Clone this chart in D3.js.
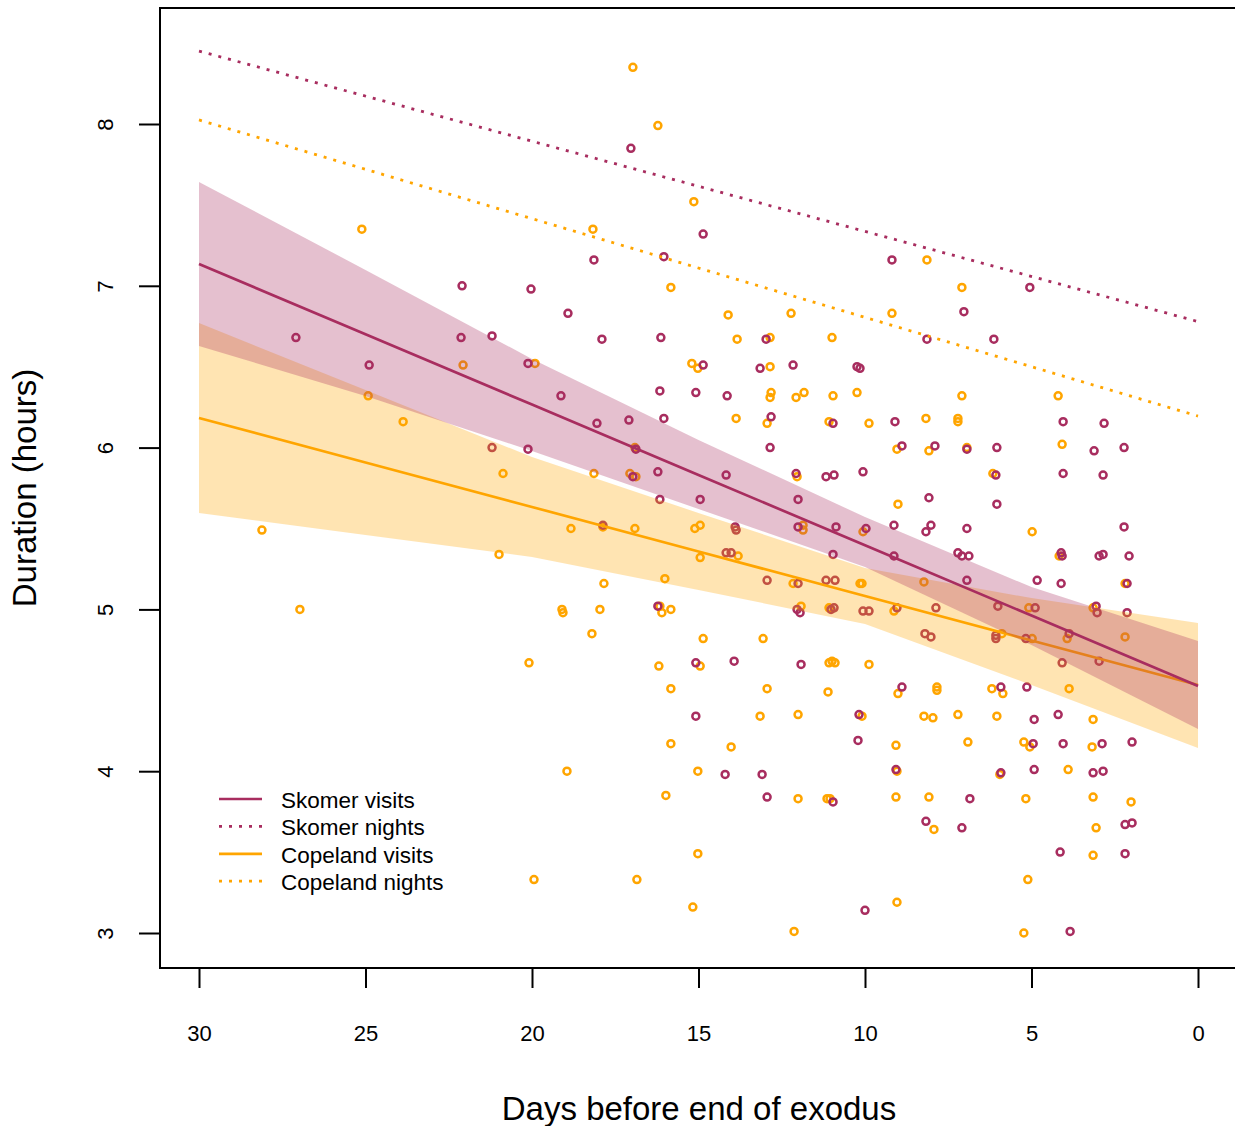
<!DOCTYPE html>
<html>
<head>
<meta charset="utf-8">
<script src="https://cdn.jsdelivr.net/npm/d3@7"></script>
<style>
  body { margin: 0; background: #fff; }
  svg { display: block; font-family: "Liberation Sans", Arial, sans-serif; }
</style>
</head>
<body>
<svg id="chart" width="1235" height="1126"></svg>
<script>
// observations: [days before end of exodus, duration in hours]
const skomerPoints = [
  [27.09,6.68],[22.10,7.00],[20.03,6.98],[22.13,6.68],[21.20,6.69],[17.03,7.85],[14.86,7.32],[18.14,7.16],
  [16.04,7.18],[18.92,6.83],[17.90,6.67],[16.13,6.68],[12.97,6.67],[9.19,7.16],[5.05,6.99],[7.03,6.84],
  [8.14,6.67],[6.13,6.67],[24.89,6.51],[20.12,6.52],[21.20,6.00],[20.12,5.99],[14.86,6.51],[13.15,6.49],
  [12.16,6.51],[10.24,6.50],[10.15,6.49],[19.13,6.32],[16.16,6.35],[15.08,6.34],[14.14,6.32],[18.05,6.15],
  [17.09,6.17],[16.04,6.18],[12.82,6.19],[10.96,6.15],[12.85,6.00],[16.88,5.99],[16.97,5.82],[16.22,5.85],
  [14.17,5.83],[12.07,5.84],[11.17,5.82],[10.93,5.83],[16.16,5.68],[14.95,5.68],[12.01,5.68],[17.87,5.52],
  [13.90,5.51],[13.87,5.49],[12.01,5.51],[10.87,5.51],[14.17,5.35],[14.02,5.35],[10.96,5.34],[12.94,5.18],
  [12.01,5.16],[11.17,5.18],[10.90,5.18],[16.22,5.02],[12.04,5.00],[11.95,4.98],[11.02,5.00],[10.93,5.01],
  [9.10,6.16],[4.05,6.16],[2.82,6.15],[8.89,6.01],[7.90,6.01],[6.94,5.99],[6.04,6.00],[3.12,5.98],
  [2.22,6.00],[10.06,5.85],[6.07,5.83],[4.05,5.84],[2.85,5.83],[8.08,5.69],[6.04,5.65],[9.97,5.50],
  [9.13,5.52],[8.17,5.48],[8.02,5.52],[6.94,5.50],[2.22,5.51],[9.13,5.33],[7.21,5.35],[7.09,5.33],
  [6.88,5.33],[4.11,5.35],[4.08,5.33],[2.97,5.33],[2.85,5.34],[2.07,5.33],[6.94,5.18],[4.83,5.18],
  [4.11,5.16],[2.13,5.16],[10.06,4.99],[9.88,4.99],[9.04,5.01],[7.87,5.01],[6.01,5.02],[4.89,5.01],
  [3.06,5.02],[3.03,4.98],[2.13,4.98],[8.20,4.85],[8.02,4.83],[6.07,4.84],[6.07,4.82],[5.17,4.82],
  [3.87,4.85],[4.08,4.67],[2.97,4.68],[8.89,4.52],[5.92,4.52],[5.14,4.52],[10.18,4.35],[4.92,4.32],
  [4.20,4.35],[10.21,4.19],[4.95,4.17],[4.05,4.17],[2.88,4.17],[1.98,4.18],[9.07,4.01],[5.92,3.99],
  [4.92,4.01],[3.15,3.99],[2.85,4.00],[6.85,3.83],[8.17,3.69],[7.09,3.65],[2.19,3.67],[1.98,3.68],
  [4.14,3.50],[2.19,3.49],[10.00,3.14],[3.84,3.01],[15.08,4.67],[13.93,4.68],[11.92,4.66],[15.08,4.34],
  [14.20,3.98],[13.09,3.98],[12.94,3.84],[10.96,3.81]
];

const copelandPoints = [
  [25.11,7.35],[16.97,8.35],[16.22,7.99],[15.14,7.52],[18.17,7.35],[15.83,6.99],[14.11,6.82],[12.22,6.83],
  [13.84,6.67],[12.85,6.68],[10.99,6.68],[8.14,7.16],[7.09,6.99],[9.19,6.83],[22.07,6.51],[24.92,6.32],
  [23.87,6.16],[20.87,5.84],[28.11,5.49],[20.99,5.34],[26.97,5.00],[20.09,4.67],[19.91,6.52],[15.20,6.52],
  [15.02,6.49],[12.85,6.50],[12.82,6.34],[12.85,6.31],[12.07,6.31],[11.83,6.34],[10.96,6.32],[10.24,6.34],
  [13.87,6.18],[12.94,6.15],[11.08,6.16],[16.91,6.00],[18.14,5.84],[17.06,5.84],[16.88,5.82],[12.04,5.82],
  [18.83,5.50],[17.87,5.51],[16.91,5.50],[15.11,5.50],[14.95,5.52],[11.86,5.52],[11.86,5.49],[14.95,5.32],
  [13.81,5.33],[17.84,5.16],[16.01,5.19],[12.16,5.16],[10.15,5.16],[19.10,5.00],[19.07,4.98],[17.96,5.00],
  [16.16,5.02],[16.10,4.98],[15.83,5.00],[11.92,5.02],[11.08,5.01],[18.20,4.85],[14.86,4.82],[13.06,4.82],
  [7.09,6.32],[4.20,6.32],[9.88,6.15],[8.17,6.18],[7.21,6.18],[7.21,6.16],[9.04,5.99],[8.08,5.98],
  [6.94,6.00],[4.08,6.02],[6.16,5.84],[9.01,5.65],[10.06,5.48],[4.98,5.48],[4.17,5.33],[10.09,5.16],
  [8.23,5.17],[2.19,5.16],[9.13,4.99],[5.08,5.01],[3.15,5.01],[5.89,4.85],[4.98,4.82],[3.93,4.82],
  [2.19,4.83],[9.88,4.66],[9.01,4.48],[7.84,4.52],[7.84,4.50],[6.19,4.51],[5.86,4.48],[3.87,4.51],
  [10.09,4.34],[8.23,4.34],[7.96,4.33],[7.21,4.35],[6.04,4.34],[3.15,4.32],[9.07,4.16],[6.91,4.18],
  [5.23,4.18],[5.05,4.15],[3.18,4.15],[9.04,4.00],[5.95,3.98],[3.90,4.01],[9.07,3.84],[8.08,3.84],
  [5.17,3.83],[3.15,3.84],[2.01,3.81],[7.93,3.64],[3.06,3.65],[3.15,3.48],[5.11,3.33],[9.04,3.19],
  [5.23,3.00],[14.95,4.65],[16.19,4.65],[11.08,4.67],[10.99,4.68],[10.90,4.67],[15.83,4.51],[12.94,4.51],
  [11.11,4.49],[13.15,4.34],[12.01,4.35],[15.83,4.17],[14.02,4.15],[18.95,4.00],[15.02,4.00],[15.98,3.85],
  [12.01,3.83],[11.14,3.83],[11.05,3.83],[15.02,3.49],[19.94,3.33],[16.85,3.33],[15.17,3.16],[12.13,3.01]
];

// fitted visit durations with confidence band
const bandDays      = [30, 25, 20, 15, 10, 5, 0];
const skomerFit     = [7.135, 6.700, 6.266, 5.831, 5.396, 4.962, 4.527];
const skomerUpper   = [7.642, 7.098, 6.548, 6.047, 5.571, 5.138, 4.805];
const skomerLower   = [6.628, 6.319, 5.979, 5.621, 5.262, 4.780, 4.261];
const copelandFit   = [6.183, 5.908, 5.633, 5.358, 5.083, 4.808, 4.533];
const copelandUpper = [6.770, 6.356, 5.942, 5.596, 5.256, 5.070, 4.916];
const copelandLower = [5.596, 5.460, 5.324, 5.120, 4.910, 4.533, 4.143];

// night length
const nightDays      = [30, 0];
const skomerNights   = [8.451, 6.779];
const copelandNights = [8.025, 6.195];

const xTicks = [30, 25, 20, 15, 10, 5, 0];
const yTicks = [3, 4, 5, 6, 7, 8];

const purple = '#A82D5F';
const orange = '#FFA500';
const dotted = '3 7';

const svg = d3.select('#chart');

const x = d3.scaleLinear().domain([30, 0]).range([199, 1198]);
const y = d3.scaleLinear().domain([3, 8]).range([933, 124]);

const plotTop = 8, plotBottom = 968, plotLeft = 160;

// points
const drawPoints = (pts, color) => {
  svg.append('g')
    .selectAll('circle')
    .data(pts)
    .join('circle')
    .attr('cx', d => x(d[0]))
    .attr('cy', d => y(d[1]))
    .attr('r', 3.5)
    .attr('fill', 'none')
    .attr('stroke', color)
    .attr('stroke-width', 2.5);
};
drawPoints(copelandPoints, orange);
drawPoints(skomerPoints, purple);

const area = (lo, hi) => d3.area()
  .x((d, i) => x(bandDays[i]))
  .y0((d, i) => y(lo[i]))
  .y1((d, i) => y(hi[i]));

const line = (days) => d3.line()
  .x((d, i) => x(days[i]))
  .y(d => y(d));

// Copeland band + fit
svg.append('path')
  .datum(bandDays)
  .attr('d', area(copelandLower, copelandUpper))
  .attr('fill', orange)
  .attr('fill-opacity', 0.3);

svg.append('path')
  .datum(copelandFit)
  .attr('d', line(bandDays))
  .attr('fill', 'none')
  .attr('stroke', orange)
  .attr('stroke-width', 2.7);

// Skomer band + fit
svg.append('path')
  .datum(bandDays)
  .attr('d', area(skomerLower, skomerUpper))
  .attr('fill', purple)
  .attr('fill-opacity', 0.3);

svg.append('path')
  .datum(skomerFit)
  .attr('d', line(bandDays))
  .attr('fill', 'none')
  .attr('stroke', purple)
  .attr('stroke-width', 2.7);

// nights
svg.append('path')
  .datum(skomerNights)
  .attr('d', line(nightDays))
  .attr('fill', 'none')
  .attr('stroke', purple)
  .attr('stroke-width', 2.8)
  .attr('stroke-dasharray', dotted);

svg.append('path')
  .datum(copelandNights)
  .attr('d', line(nightDays))
  .attr('fill', 'none')
  .attr('stroke', orange)
  .attr('stroke-width', 2.8)
  .attr('stroke-dasharray', dotted);

// frame
svg.append('rect')
  .attr('x', plotLeft)
  .attr('y', plotTop)
  .attr('width', 1100)
  .attr('height', plotBottom - plotTop)
  .attr('fill', 'none')
  .attr('stroke', '#000')
  .attr('stroke-width', 2);

// axes
const xAxis = svg.append('g')
  .attr('transform', `translate(0,${plotBottom})`)
  .call(d3.axisBottom(x).tickValues(xTicks).tickSize(20).tickPadding(37).tickFormat(d3.format('d')));
xAxis.select('.domain').remove();
xAxis.selectAll('line').attr('stroke-width', 2);
xAxis.selectAll('text').attr('font-size', 22).attr('font-family', null).attr('fill', '#000');

const yAxis = svg.append('g')
  .attr('transform', `translate(${plotLeft},0)`)
  .call(d3.axisLeft(y).tickValues(yTicks).tickSize(21).tickFormat(d3.format('d')));
yAxis.select('.domain').remove();
yAxis.selectAll('line').attr('stroke-width', 2);
yAxis.selectAll('text')
  .attr('x', 0)
  .attr('dy', 0)
  .attr('text-anchor', 'middle')
  .attr('transform', 'translate(-47,0) rotate(-90)')
  .attr('font-size', 22)
  .attr('font-family', null)
  .attr('fill', '#000');

// titles
svg.append('text')
  .attr('x', 699)
  .attr('y', 1120)
  .attr('text-anchor', 'middle')
  .attr('font-size', 33)
  .text('Days before end of exodus');

svg.append('text')
  .attr('transform', 'translate(36,488) rotate(-90)')
  .attr('text-anchor', 'middle')
  .attr('font-size', 33)
  .text('Duration (hours)');

// legend
const legendItems = [
  { label: 'Skomer visits', color: purple, dash: null },
  { label: 'Skomer nights', color: purple, dash: dotted },
  { label: 'Copeland visits', color: orange, dash: null },
  { label: 'Copeland nights', color: orange, dash: dotted }
];

const legend = svg.append('g').attr('transform', 'translate(219,799)');
legendItems.forEach((item, i) => {
  const row = legend.append('g').attr('transform', `translate(0,${i * 27.4})`);
  row.append('line')
    .attr('x1', 0).attr('x2', 43)
    .attr('y1', 0).attr('y2', 0)
    .attr('stroke', item.color)
    .attr('stroke-width', 2.7)
    .attr('stroke-dasharray', item.dash);
  row.append('text')
    .attr('x', 62)
    .attr('y', 9)
    .attr('font-size', 22.5)
    .text(item.label);
});
</script>
</body>
</html>
